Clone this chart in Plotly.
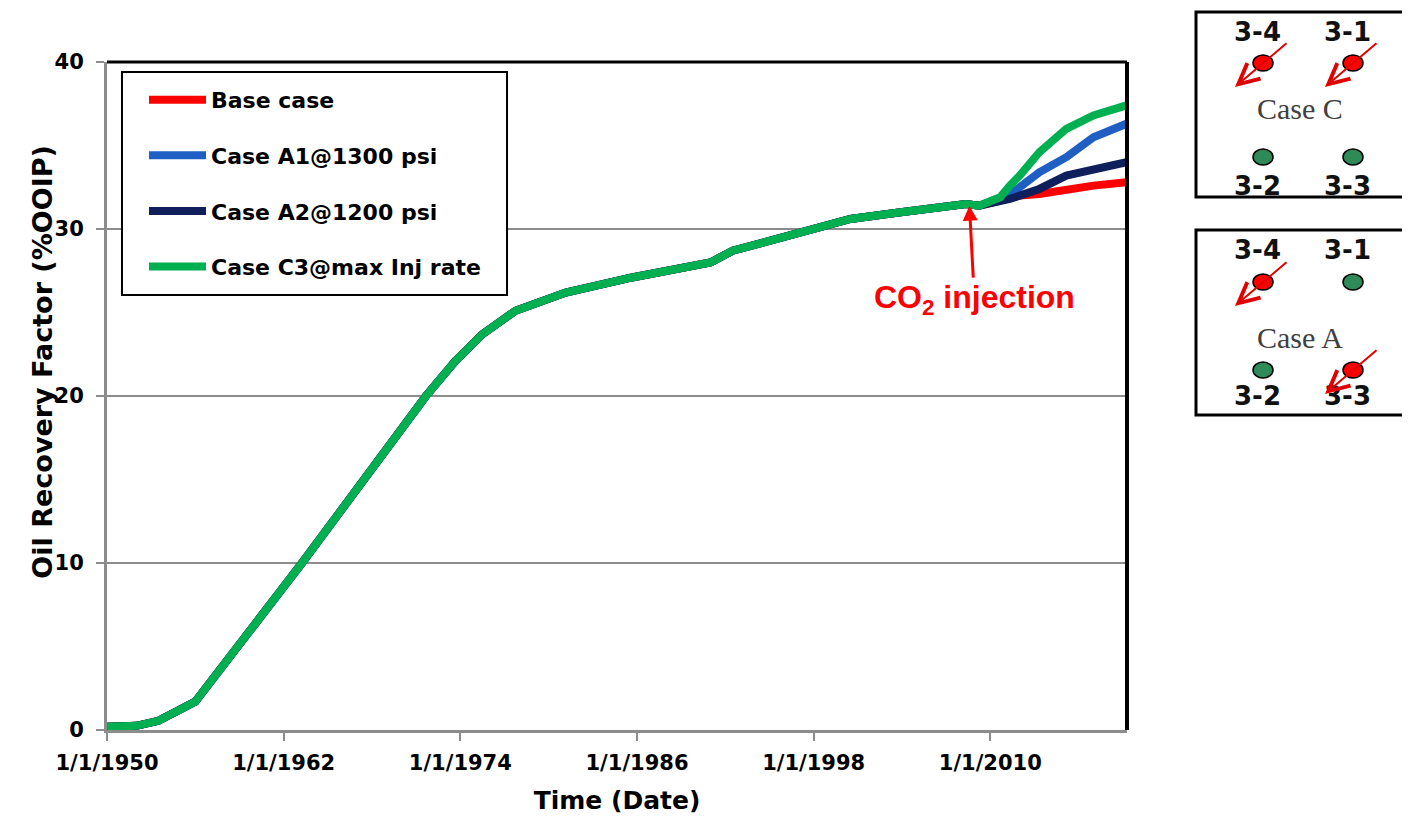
import plotly.graph_objects as go

# history (common to all cases)
hist_dates = ["1950-01-01", "1952-01-01", "1953-07-01", "1956-01-01", "1963-04-01",
              "1971-09-01", "1973-09-01", "1975-07-01", "1977-10-01", "1981-03-01",
              "1985-09-01", "1991-01-01", "1992-07-01", "1994-10-01", "1997-02-01",
              "2000-07-01", "2003-12-01", "2008-05-01", "2009-04-01"]
hist_values = [0.2, 0.25, 0.55, 1.7, 10.0, 20.0, 22.1, 23.7, 25.1, 26.2,
               27.1, 28.0, 28.7, 29.2, 29.8, 30.6, 31.0, 31.5, 31.4]

# prediction after CO2 injection
pred_dates = ["2010-09-01", "2011-05-01", "2012-01-01", "2013-05-01",
              "2015-03-01", "2017-01-01", "2019-04-01"]
base_case = [31.7, 31.9, 32.0, 32.1, 32.4, 32.6, 32.8]
case_a1 = [31.9, 32.1, 32.5, 33.4, 34.3, 35.5, 36.3]
case_a2 = [31.6, 31.8, 32.0, 32.4, 33.2, 33.6, 34.0]
case_c3 = [31.9, 32.6, 33.2, 34.6, 36.0, 36.8, 37.4]

series_names = ["Base case", "Case A1@1300 psi", "Case A2@1200 psi", "Case C3@max Inj rate"]
series_values = [base_case, case_a1, case_a2, case_c3]
series_colors = ["#FF0000", "#1F5FC4", "#0E1F5C", "#00B050"]

tick_dates = ["1950-01-01", "1962-01-01", "1974-01-01", "1986-01-01", "1998-01-01", "2010-01-01"]

# well pattern schematics
panel_names = ["Case C", "Case A"]
panel_injectors = [["3-4", "3-1"], ["3-4", "3-3"]]
well_top_row = ["3-4", "3-1"]
well_bottom_row = ["3-2", "3-3"]

FONT = "DejaVu Sans, Verdana, sans-serif"
ARIAL = "Liberation Sans, Arial, sans-serif"


def px_to_paper(x, y):
    # page pixel -> paper fraction (plot area spans x 107..1410, y 20..730)
    return (x - 107) / 1303, (730 - y) / 710


fig = go.Figure()
for name, vals, color in zip(series_names, series_values, series_colors):
    fig.add_trace(go.Scatter(
        x=hist_dates + pred_dates, y=hist_values + vals, name=name, mode="lines",
        line=dict(color=color, width=8), legendgroup=name,
    ))

# schematic panels drawn on a hidden pixel-like axis
panel_top = [12, 230]
panel_bottom = [197, 415]
row_y = [[32, 63, 108, 157, 186], [250, 282, 337, 370, 396]]
col_x = [1263, 1353]
shapes = []
annotations = []
for p, case in enumerate(panel_names):
    x0, y0 = px_to_paper(1196, panel_top[p])
    x1, y1 = px_to_paper(1430, panel_bottom[p])
    shapes.append(dict(type="rect", xref="paper", yref="paper", x0=x0, x1=x1,
                       y0=y0, y1=y1, line=dict(color="black", width=3)))
    ly_top, wy_top, ty, wy_bot, ly_bot = row_y[p]
    annotations.append(dict(xref="x2", yref="y2", x=1300, y=ty, text=case, showarrow=False,
                            font=dict(family="Liberation Serif, Times New Roman, serif",
                                      size=30, color="#404040")))
    for row, (wy, ly) in enumerate([(wy_top, ly_top), (wy_bot, ly_bot)]):
        names = well_top_row if row == 0 else well_bottom_row
        for c, w in enumerate(names):
            cx = col_x[c]
            inj = w in panel_injectors[p]
            shapes.append(dict(type="circle", xref="x2", yref="y2",
                               x0=cx - 10, x1=cx + 10, y0=wy - 8, y1=wy + 8,
                               fillcolor="#FF0000" if inj else "#2E8B57",
                               line=dict(color="black", width=1.5)))
            annotations.append(dict(xref="x2", yref="y2", x=cx - 6, y=ly, text=w, showarrow=False,
                                    font=dict(family=FONT, size=26, color="#111111", weight="bold")))
            if inj:
                annotations.append(dict(xref="x2", yref="y2", axref="x2", ayref="y2",
                                        x=cx - 28, y=wy + 24, ax=cx + 25, ay=wy - 21,
                                        text="", showarrow=True, arrowhead=5, arrowsize=2,
                                        arrowwidth=2, arrowcolor="#E00000"))

# CO2 injection marker
annotations.append(dict(xref="x", yref="y", x="2008-08-01", y=31.4, ax=5, ay=94,
                        text="CO<sub>2</sub> injection", showarrow=True, arrowhead=2,
                        arrowsize=1, arrowwidth=3, arrowcolor="#FF0000",
                        font=dict(family=ARIAL, size=32, color="#FF0000", weight="bold")))

# y axis title, placed like the original (above the axis centre)
annotations.append(dict(xref="paper", yref="paper", x=-0.063, y=0.518,
                        text="Oil Recovery Factor (%OOIP)", showarrow=False, textangle=-90,
                        font=dict(family=FONT, size=27, color="black", weight="bold")))

# legend frame, drawn as a white box
shapes.append(dict(type="rect", xref="paper", yref="paper", x0=0.0115, x1=0.307,
                   y0=0.6127, y1=0.9268, fillcolor="white", layer="above",
                   line=dict(color="black", width=2)))

# frame: black top and right borders
shapes.append(dict(type="line", xref="x domain", yref="y domain", x0=0, x1=1, y0=1, y1=1,
                   line=dict(color="black", width=3)))
shapes.append(dict(type="line", xref="x domain", yref="y domain", x0=1, x1=1, y0=0, y1=1,
                   line=dict(color="black", width=4)))

fig.update_layout(
    width=1402, height=812,
    margin=dict(l=99, r=0, t=2, b=90),
    paper_bgcolor="white", plot_bgcolor="white",
    font=dict(family=FONT, color="black"),
    showlegend=True,
    legend=dict(x=0.0284, y=0.917, xanchor="left", yanchor="top",
                borderwidth=0, bgcolor="rgba(0,0,0,0)",
                font=dict(size=22, weight="bold"), tracegroupgap=24,
                traceorder="grouped", itemwidth=57),
    xaxis=dict(domain=[0, 0.7828], type="date",
               range=["1950-01-01", "2019-04-15"],
               tickvals=tick_dates, tickformat="%-m/%-d/%Y",
               tickfont=dict(size=21, weight="bold"), ticklabelstandoff=4,
               showgrid=False, showline=True, linecolor="#8C8C8C", linewidth=3,
               ticks="outside", ticklen=8, tickcolor="#8C8C8C", tickwidth=2,
               title=dict(text="Time (Date)", font=dict(size=25, weight="bold"), standoff=18),
               zeroline=False),
    yaxis=dict(domain=[0, 0.9408], range=[0, 40], dtick=10,
               tickfont=dict(size=21, weight="bold"), ticklabelstandoff=8,
               showgrid=True, gridcolor="#8C8C8C", gridwidth=2,
               showline=True, linecolor="#8C8C8C", linewidth=3,
               ticks="outside", ticklen=8, tickcolor="#8C8C8C", tickwidth=2,
               zeroline=False),
    xaxis2=dict(domain=[0.835, 1], range=[1195, 1410], visible=False, anchor="y2",
                fixedrange=True),
    yaxis2=dict(domain=[0, 1], range=[730, 20], visible=False, anchor="x2",
                fixedrange=True),
    shapes=shapes,
    annotations=annotations,
)

fig.write_html("out.html")
